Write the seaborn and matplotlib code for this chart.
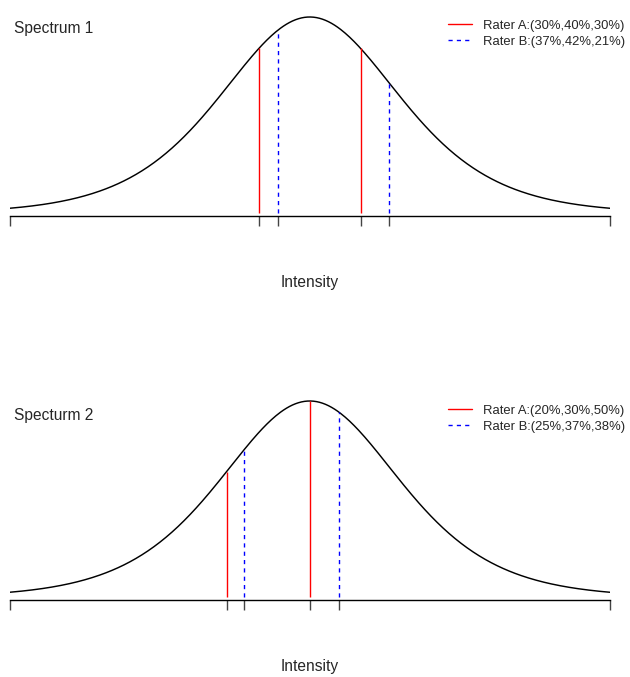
import numpy as np
import pandas as pd
import matplotlib
matplotlib.use("Agg")
import matplotlib.pyplot as plt
import seaborn as sns
from matplotlib.lines import Line2D

sns.set_style("white")
plt.rcParams['font.family'] = ['Liberation Sans', 'DejaVu Sans']

# ---- data ----
panel_titles = ["Spectrum 1", "Specturm 2"]
rater_a_pct = [[30, 40, 30], [20, 30, 50]]
rater_b_pct = [[37, 42, 21], [25, 37, 38]]
x_range = [-5, 5]
xlabel = "Intensity"

W, H = 630, 677
fig = plt.figure(figsize=(W / 100, H / 100), dpi=100)

def logistic_pdf(x):
    return np.exp(-x) / (1 + np.exp(-x)) ** 2

def logistic_q(p):
    return np.log(p / (1 - p))

scale = 786.0  # px per density unit
ymin = -2.5 / scale
ymax = 0.2589

axis_px = [216, 600]
label_px = [283, 667]
title_base_px = [33.3, 420]
legend_top_px = [19.5, 404.5]

xs = np.linspace(x_range[0], x_range[1], 400)
curve = pd.DataFrame({"x": xs, "y": logistic_pdf(xs)})

for i in range(2):
    bottom = axis_px[i]
    ax = fig.add_axes([9.5 / W, (H - bottom) / H, 600.5 / W, 206 / H])
    ax.set_facecolor("none")
    sns.lineplot(data=curve, x="x", y="y", color="black", lw=1.05, ax=ax)

    a_cuts = logistic_q(np.cumsum(rater_a_pct[i])[:-1] / 100)
    b_cuts = logistic_q(np.cumsum(rater_b_pct[i])[:-1] / 100)
    ax.vlines(a_cuts, 0, logistic_pdf(a_cuts), colors="red", lw=1.0)
    ax.vlines(b_cuts, 0, logistic_pdf(b_cuts), colors="blue", lw=1.0,
              linestyles=(0, (3, 3)))

    ax.set_xlim(x_range[0], x_range[1])
    ax.set_ylim(ymin, ymax)
    for s in ["top", "left", "right"]:
        ax.spines[s].set_visible(False)
    ax.spines["bottom"].set_color("black")
    ax.spines["bottom"].set_linewidth(1.0)
    ax.spines["bottom"].set_bounds(x_range[0], x_range[1])
    ticks = sorted([x_range[0], x_range[1]] + list(a_cuts) + list(b_cuts))
    ax.set_xticks(ticks)
    ax.set_xticklabels([""] * len(ticks))
    ax.set_yticks([])
    ax.tick_params(axis="x", direction="out", length=7.2, width=1.0,
                   color="#444444", bottom=True)
    ax.set_xlabel("")
    ax.set_ylabel("")
    ax.grid(False)

    fig.text(14 / W, 1 - title_base_px[i] / H, panel_titles[i], fontsize=11.2,
             ha="left", va="baseline")
    fig.text(310 / W, 1 - label_px[i] / H, xlabel, fontsize=11.2,
             ha="center", va="center")

    lab_a = "Rater A:(" + ",".join(f"{v}%" for v in rater_a_pct[i]) + ")"
    lab_b = "Rater B:(" + ",".join(f"{v}%" for v in rater_b_pct[i]) + ")"
    handles = [Line2D([], [], color="red", lw=1.0),
               Line2D([], [], color="blue", lw=1.0, linestyle=(0, (3, 3)))]
    ax.legend(handles, [lab_a, lab_b], frameon=False, fontsize=9.4,
              loc="upper right",
              bbox_to_anchor=(625 / W, 1 - legend_top_px[i] / H),
              bbox_transform=fig.transFigure,
              handlelength=1.85, handletextpad=0.85, labelspacing=0.3,
              borderpad=0.0, borderaxespad=0.0)

fig.savefig("out.png", dpi=100)
